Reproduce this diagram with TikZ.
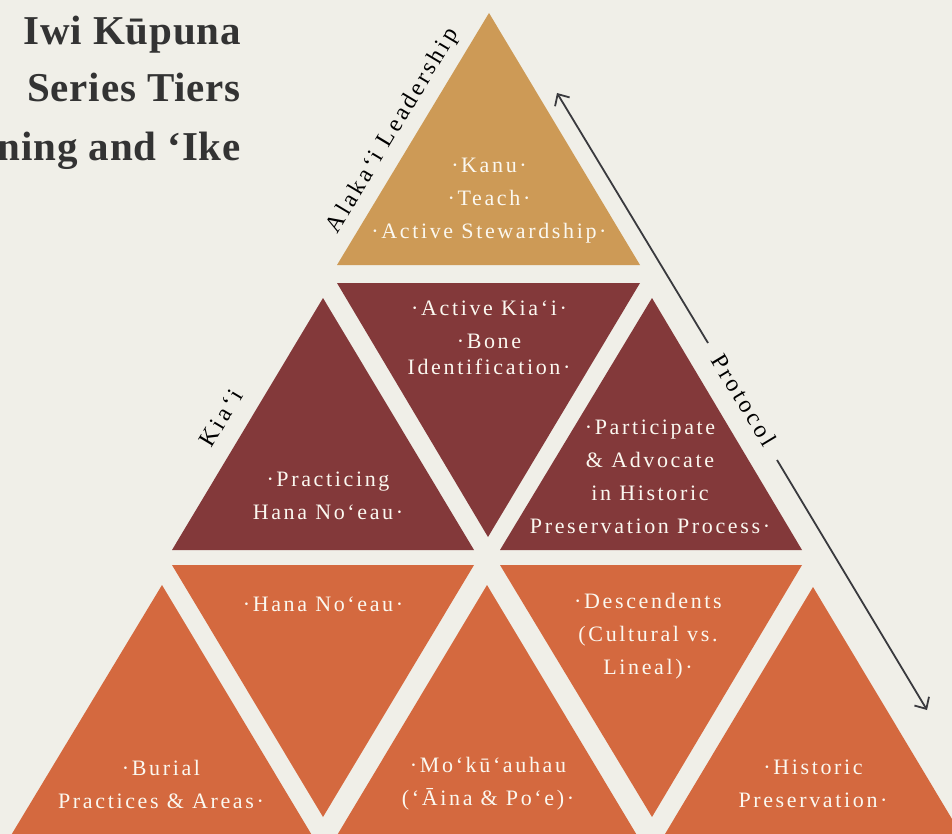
\documentclass[tikz,border=0pt]{standalone}
\usepackage{fontspec}
\setmainfont{Liberation Serif}
\newfontfamily\tfont[LetterSpace=12]{Liberation Serif}
\newfontfamily\lfont[LetterSpace=13]{Liberation Serif}
\newfontfamily\ttlfont[LetterSpace=2]{Liberation Serif}
\usetikzlibrary{arrows.meta}
\definecolor{bgc}{HTML}{F0EFE8}
\definecolor{goldc}{HTML}{CD9A56}
\definecolor{redc}{HTML}{83393A}
\definecolor{orangec}{HTML}{D4693F}
\definecolor{creamc}{HTML}{FBF8F0}
\definecolor{titlec}{HTML}{333333}
\definecolor{arrowc}{HTML}{3A3A3E}
\begin{document}
\begin{tikzpicture}[x=1pt,y=-1pt,
  txt/.style={text=creamc, font=\tfont\fontsize{22}{33}\selectfont, align=center, inner sep=0pt},
  side/.style={text=black, font=\lfont\fontsize{24}{28}\selectfont, inner sep=0pt},
  ttl/.style={text=titlec, font=\ttlfont\bfseries\fontsize{41}{50}\selectfont, anchor=base east, inner sep=0pt},
  arr/.style={draw=arrowc, line width=1.8pt, -{Straight Barb[length=9pt,width=17pt,line width=1.8pt]}}]
\useasboundingbox (0,0) rectangle (952,834);
\fill[bgc] (0,0) rectangle (952,834);

% row 1
\fill[goldc] (489,13) -- (640,265) -- (337,265) -- cycle;
% row 2
\fill[redc] (323,298) -- (474,550) -- (172,550) -- cycle;
\fill[redc] (337,283) -- (640,283) -- (488,537) -- cycle;
\fill[redc] (652,298) -- (802,550) -- (500,550) -- cycle;
% row 3
\fill[orangec] (162,585) -- (313,837) -- (10,837) -- cycle;
\fill[orangec] (172,565) -- (474,565) -- (323,817) -- cycle;
\fill[orangec] (487,585) -- (638,837) -- (336,837) -- cycle;
\fill[orangec] (500,565) -- (802,565) -- (652,817) -- cycle;
\fill[orangec] (813,587) -- (964,839) -- (662,839) -- cycle;

% title
\node[ttl] (title1) at (241,45) {Iwi Kūpuna};
\node[ttl] (title2) at (241,102) {Series Tiers};
\node[ttl] (title3) at (241,161) {ning and ‘Ike};

% texts
\node[txt] (kanu) at (489,201) {·Kanu·\\·Teach·\\·Active Stewardship·};
\node[txt] (active) at (489,308) {·Active Kia‘i·};
\node[txt, font=\tfont\fontsize{22}{26}\selectfont] (bone) at (489,354) {·Bone\\Identification·};
\node[txt] (practicing) at (328,496) {·Practicing\\Hana No‘eau·};
\node[txt] (participate) at (650,477) {·Participate\\\& Advocate\\in Historic\\Preservation Process·};
\node[txt] (hana) at (323,604) {·Hana No‘eau·};
\node[txt] (desc) at (648,636) {·Descendents\\(Cultural vs.\\Lineal)·};
\node[txt] (burial) at (161,784) {·Burial\\Practices \& Areas·};
\node[txt] (moku) at (488,784) {·Mo‘kū‘auhau\\(‘Āina \& Po‘e)·};
\node[txt] (hist) at (813,784) {·Historic\\Preservation·};

% side labels
\node[side, rotate=59] (lead) at (393,131) {Alaka‘i Leadership};
\node[side, rotate=59] (kiai) at (221,418) {Kia‘i};
\node[side, rotate=-59] (proto) at (744,400) {Protocol};

% arrows
\coordinate (upstart) at (708,343);
\coordinate (upend) at (557,93);
\coordinate (downstart) at (777,460);
\coordinate (downend) at (927,710);
\draw[arr] (upstart) -- (upend);
\draw[arr] (downstart) -- (downend);
\end{tikzpicture}
\end{document}
